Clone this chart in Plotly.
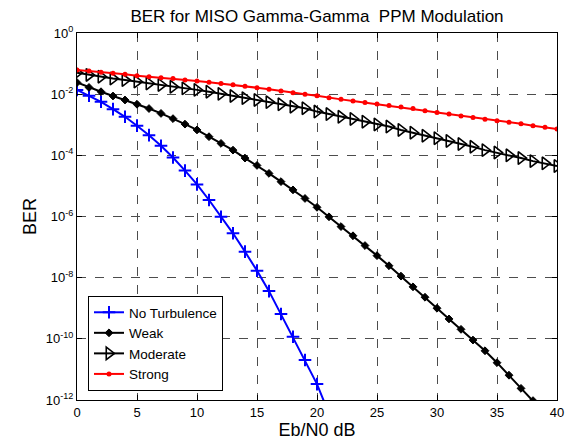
import plotly.graph_objects as go

ebn0_db = list(range(0, 41))

# log10(BER)
log_ber_no_turb = [-1.86, -2.05, -2.25, -2.49, -2.74, -3.03, -3.34, -3.69, -4.07, -4.50,
                   -4.95, -5.46, -6.01, -6.55, -7.15, -7.77, -8.44, -9.19, -9.93, -10.69,
                   -11.48, -12.45]
log_ber_weak = [-1.62, -1.78, -1.92, -2.06, -2.19, -2.33, -2.47, -2.63, -2.80, -2.98,
                -3.17, -3.39, -3.61, -3.83, -4.09, -4.33, -4.59, -4.86, -5.13, -5.41,
                -5.70, -6.01, -6.33, -6.63, -6.95, -7.28, -7.61, -7.95, -8.30, -8.64,
                -9.00, -9.35, -9.69, -10.04, -10.39, -10.78, -11.19, -11.62, -12.02, -12.45,
                -12.9]
log_ber_moderate = [-1.30, -1.37, -1.43, -1.49, -1.54, -1.59, -1.65, -1.70, -1.76, -1.81,
                    -1.86, -1.92, -1.99, -2.06, -2.13, -2.19, -2.26, -2.33, -2.41, -2.46,
                    -2.57, -2.65, -2.74, -2.81, -2.90, -2.99, -3.06, -3.17, -3.26, -3.36,
                    -3.44, -3.53, -3.63, -3.72, -3.83, -3.91, -4.00, -4.09, -4.19, -4.26,
                    -4.35]
log_ber_strong = [-1.21, -1.24, -1.28, -1.32, -1.35, -1.40, -1.43, -1.46, -1.49, -1.54,
                  -1.57, -1.61, -1.65, -1.69, -1.74, -1.79, -1.84, -1.90, -1.95, -2.00,
                  -2.05, -2.12, -2.17, -2.22, -2.27, -2.32, -2.37, -2.42, -2.47, -2.54,
                  -2.60, -2.65, -2.71, -2.76, -2.82, -2.87, -2.92, -2.97, -3.03, -3.08,
                  -3.14]

y_tick_vals = [1, 1e-2, 1e-4, 1e-6, 1e-8, 1e-10, 1e-12]
y_tick_text = ["10<sup>0</sup>", "10<sup>-2</sup>", "10<sup>-4</sup>", "10<sup>-6</sup>",
               "10<sup>-8</sup>", "10<sup>-10</sup>", "10<sup>-12</sup>"]
x_tick_vals = [0, 5, 10, 15, 20, 25, 30, 35, 40]


def to_ber(logs):
    return [10 ** v for v in logs]


fig = go.Figure()
fig.add_trace(go.Scatter(
    x=ebn0_db[:len(log_ber_no_turb)], y=to_ber(log_ber_no_turb), name="No Turbulence",
    mode="lines+markers", line=dict(color="#0000ff", width=2),
    marker=dict(symbol="cross-thin", size=9, line=dict(color="#0000ff", width=2))))
fig.add_trace(go.Scatter(
    x=ebn0_db[:len(log_ber_weak)], y=to_ber(log_ber_weak), name="Weak",
    mode="lines+markers", line=dict(color="black", width=2),
    marker=dict(symbol="diamond", size=6, color="black", line=dict(color="black", width=1))))
fig.add_trace(go.Scatter(
    x=ebn0_db, y=to_ber(log_ber_moderate), name="Moderate",
    mode="lines+markers", line=dict(color="black", width=2),
    marker=dict(symbol="triangle-right-open", size=11, color="black",
                line=dict(color="black", width=1.6))))
fig.add_trace(go.Scatter(
    x=ebn0_db, y=to_ber(log_ber_strong), name="Strong",
    mode="lines+markers", line=dict(color="#ff0000", width=2),
    marker=dict(symbol="circle", size=5, color="#ff0000")))

axis_common = dict(
    showline=True, linecolor="black", linewidth=1, mirror="ticks",
    ticks="inside", ticklen=5, tickcolor="black", automargin=False,
    showgrid=True, gridcolor="#4d4d4d", griddash="dash", gridwidth=1,
    zeroline=False, tickfont=dict(family="Liberation Sans, Arial", size=13, color="black"),
)

fig.update_layout(
    width=568, height=441,
    margin=dict(l=77, r=11, t=33, b=41),
    paper_bgcolor="white", plot_bgcolor="white",
    font=dict(family="Liberation Sans, Arial", color="black"),
    title=dict(text="BER for MISO Gamma-Gamma&nbsp;&nbsp;PPM Modulation",
               x=0.5, xanchor="center", xref="paper",
               y=1 - 16 / 441, yanchor="middle", yref="container",
               font=dict(size=17, color="black")),
    xaxis=dict(range=[0, 40], tickvals=x_tick_vals,
               title=dict(text="Eb/N0 dB", font=dict(size=18), standoff=2), **axis_common),
    yaxis=dict(type="log", range=[-12, 0], tickvals=y_tick_vals, ticktext=y_tick_text,
               title=dict(text="BER", font=dict(size=18), standoff=4), **axis_common),
    legend=dict(x=(88 - 77) / 480, y=(400 - 391) / 367, xref="paper", yref="paper",
                xanchor="left", yanchor="bottom",
                bgcolor="white", bordercolor="black", borderwidth=1,
                font=dict(size=13.5, color="black"), tracegroupgap=0),
    showlegend=True,
)

fig.write_html("out.html")
